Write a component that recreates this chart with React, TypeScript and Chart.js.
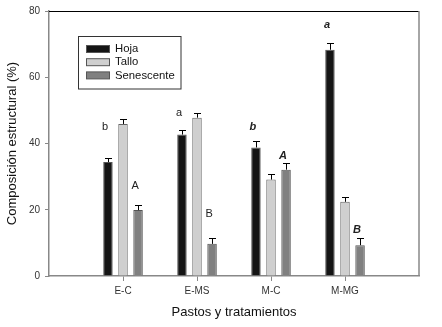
import React, { useEffect, useRef } from "react";
import { Chart, registerables } from "chart.js";

Chart.register(...registerables);

const categories = ["E-C", "E-MS", "M-C", "M-MG"];
const hoja = [34.4, 42.7, 38.8, 68.3];
const tallo = [45.9, 47.8, 29.1, 22.4];
const senescente = [19.9, 9.7, 32.1, 9.3];
const hojaErr = [1.3, 1.4, 2.0, 2.1];
const talloErr = [1.5, 1.3, 1.7, 1.6];
const senescenteErr = [1.4, 1.8, 2.0, 2.1];
const hojaLetters = ["b", "a", "b", "a"];
const senescenteLetters = ["A", "B", "A", "B"];
const hojaLetterY = [44.9, 49.3, 44.9, 75.8];
const senescenteLetterY = [27.1, 18.6, 36.1, 13.9];
const letterBoldItalic = [false, false, true, true];
const yTicks = [0, 20, 40, 60, 80];

const FONT = "'Liberation Sans', Arial, sans-serif";

const pad = (arr: (number | null)[]) => [null, ...arr, null];

const errorPlugin = {
  id: "errorBars",
  afterDatasetsDraw(chart: any) {
    const ctx = chart.ctx;
    const yScale = chart.scales.y;
    const errs = [hojaErr, talloErr, senescenteErr];
    ctx.save();
    ctx.strokeStyle = "#000";
    ctx.lineWidth = 1;
    errs.forEach((errArr, di) => {
      const meta = chart.getDatasetMeta(di);
      errArr.forEach((e, i) => {
        const el = meta.data[i + 1];
        if (!el) return;
        const v = (chart.data.datasets[di].data[i + 1] as number) + e;
        const x = Math.round(el.x) + 0.5;
        const yTop = Math.round(yScale.getPixelForValue(v)) + 0.5;
        const yBase = el.y;
        ctx.beginPath();
        ctx.moveTo(x, yBase);
        ctx.lineTo(x, yTop);
        ctx.moveTo(x - 3.5, yTop);
        ctx.lineTo(x + 3.5, yTop);
        ctx.stroke();
      });
    });
    // letters
    ctx.fillStyle = "#222";
    ctx.textAlign = "center";
    ctx.textBaseline = "middle";
    const draw = (di: number, letters: string[], ys: number[]) => {
      const meta = chart.getDatasetMeta(di);
      letters.forEach((t, i) => {
        const el = meta.data[i + 1];
        if (!el) return;
        ctx.font = (letterBoldItalic[i] ? "italic bold " : "") + "11px " + FONT;
        ctx.fillText(t, el.x - 3, yScale.getPixelForValue(ys[i]));
      });
    };
    draw(0, hojaLetters, hojaLetterY);
    draw(2, senescenteLetters, senescenteLetterY);
    // frame top and right
    const a = chart.chartArea;
    ctx.strokeStyle = "#000";
    ctx.lineWidth = 1;
    ctx.beginPath();
    ctx.moveTo(a.left, Math.round(a.top) + 0.5);
    ctx.lineTo(a.right, Math.round(a.top) + 0.5);
    ctx.stroke();
    ctx.strokeStyle = "#888";
    ctx.lineWidth = 1.5;
    ctx.beginPath();
    ctx.moveTo(a.right, a.top);
    ctx.lineTo(a.right, a.bottom);
    ctx.stroke();
    // legend
    const lx = 78.5, ly = 36.5, lw = 102.5, lh = 52.5;
    ctx.fillStyle = "#fff";
    ctx.fillRect(lx, ly, lw, lh);
    ctx.strokeStyle = "#333";
    ctx.lineWidth = 1;
    ctx.strokeRect(lx, ly, lw, lh);
    ctx.font = "11.3px " + FONT;
    ctx.textAlign = "left";
    chart.data.datasets.forEach((ds: any, i: number) => {
      const cy = 49 + i * 13.2;
      ctx.fillStyle = ds.backgroundColor;
      ctx.fillRect(86.5, cy - 3.5, 23, 7);
      ctx.strokeStyle = "#555";
      ctx.strokeRect(86.5, cy - 3.5, 23, 7);
      ctx.fillStyle = "#111";
      ctx.fillText(ds.label, 115, cy);
    });
    ctx.restore();
  },
};

export default function App() {
  const ref = useRef<HTMLCanvasElement | null>(null);
  useEffect(() => {
    document.body.style.margin = "0";
    const chart = new Chart(ref.current as HTMLCanvasElement, {
      type: "bar",
      data: {
        labels: ["", ...categories, ""],
        datasets: [
          { label: "Hoja", data: pad(hoja), backgroundColor: "#151515", borderColor: "#555", borderWidth: 1 },
          { label: "Tallo", data: pad(tallo), backgroundColor: "#cfcfcf", borderColor: "#666", borderWidth: 1 },
          { label: "Senescente", data: pad(senescente), backgroundColor: "#808080", borderColor: "#555", borderWidth: 1 },
        ],
      },
      options: {
        animation: false,
        responsive: false,
        maintainAspectRatio: false,
        layout: { padding: { top: 8, right: 23, left: 0, bottom: 0 } },
        datasets: { bar: { categoryPercentage: 0.61, barPercentage: 0.63 } },
        plugins: { legend: { display: false }, tooltip: { enabled: false } },
        scales: {
          x: {
            offset: false,
            grid: {
              offset: false,
              drawOnChartArea: false,
              drawTicks: true,
              tickLength: 5,
              color: (c: any) => (c.index === 0 || c.index === 5 ? "rgba(0,0,0,0)" : "#888"),
            },
            border: { color: "#888", width: 1.5 },
            ticks: { font: { size: 10, family: FONT }, color: "#333", padding: 4, maxRotation: 0, autoSkip: false },
            title: { display: true, text: "Pastos y tratamientos", font: { size: 13, family: FONT }, color: "#111", padding: { top: 0, bottom: 7 } },
            afterFit: (s: any) => { s.height = 51; },
          },
          y: {
            min: 0,
            max: 80,
            afterBuildTicks: (s: any) => { s.ticks = yTicks.map((v) => ({ value: v })); },
            grid: { drawOnChartArea: false, drawTicks: true, tickLength: 4, color: "#888" },
            border: { color: "#888", width: 1.5 },
            ticks: { font: { size: 10, family: FONT }, color: "#333", padding: 5 },
            title: { display: true, text: "Composición estructural (%)", font: { size: 13, family: FONT }, color: "#111", padding: { top: 4.5, bottom: 0 } },
            afterFit: (s: any) => { s.width = 49; },
          },
        },
      },
      plugins: [errorPlugin],
    });
    return () => chart.destroy();
  }, []);
  return (
    <div style={{ width: 442, height: 327 }}>
      <canvas ref={ref} width={442} height={327} style={{ width: 442, height: 327 }} />
    </div>
  );
}
